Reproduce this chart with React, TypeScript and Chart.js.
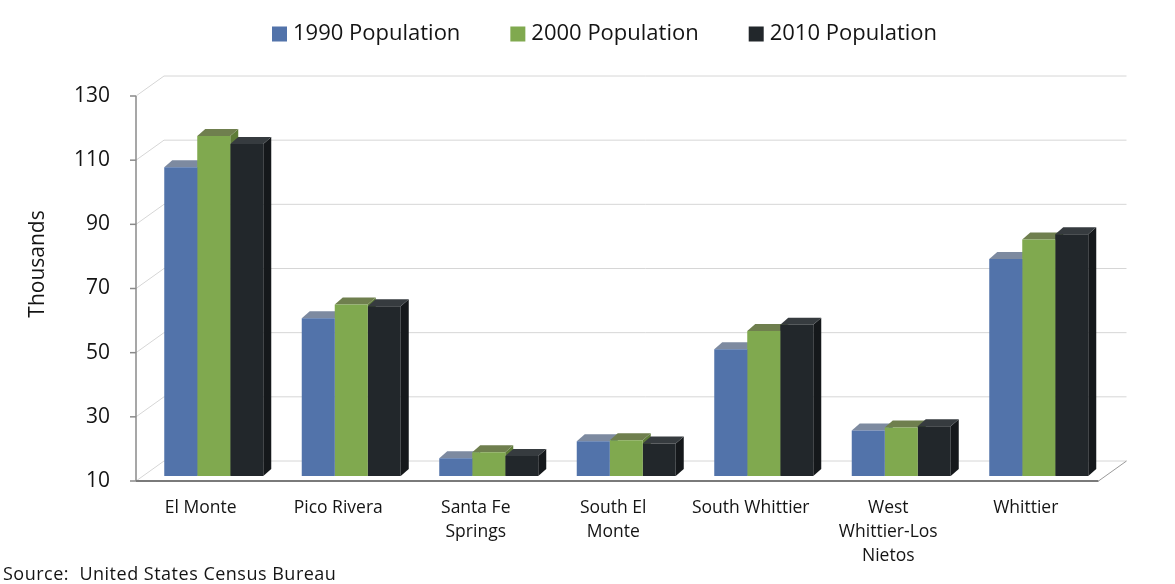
import React, { useEffect, useRef } from "react";
import { Chart, registerables } from "chart.js";

Chart.register(...registerables);

// ---- data (thousands) ----
const categories: string[][] = [
  ["El Monte"],
  ["Pico Rivera"],
  ["Santa Fe", "Springs"],
  ["South El", "Monte"],
  ["South Whittier"],
  ["West", "Whittier-Los", "Nietos"],
  ["Whittier"],
];
const seriesNames = ["1990 Population", "2000 Population", "2010 Population"];
const pop1990 = [106.209, 59.177, 15.52, 20.85, 49.514, 24.164, 77.671];
const pop2000 = [115.965, 63.428, 17.438, 21.144, 55.193, 25.129, 83.68];
const pop2010 = [113.475, 62.942, 16.223, 20.116, 57.156, 25.54, 85.331];
const yTicks = [10, 30, 50, 70, 90, 110, 130];
const axisTitle = "Thousands";
const sourceNote = "Source:  United States Census Bureau";

// ---- styles ----
const frontColors = ["#5273AA", "#80A94F", "#22272B"];
const topColors = ["#7D8AA0", "#6F7F4E", "#363B3F"];
const sideColors = ["#3D5580", "#5E7C38", "#15181B"];
const FONT = "'Open Sans', 'Noto Sans', sans-serif";
const FRONT = { dx: -9, dy: 5 };
const BACK = { dx: 19, dy: -15 };
const DEPTH = { dx: 8, dy: -7 };

const threeD = {
  id: "threeD",
  beforeDatasetsDraw(chart: any) {
    const { ctx, chartArea, scales } = chart;
    const y = scales.y;
    const L = chartArea.left;
    const R = chartArea.right;
    const b = y.getPixelForValue(yTicks[0]);
    const t = y.getPixelForValue(yTicks[yTicks.length - 1]);
    ctx.save();
    // back wall + left wall grid
    ctx.strokeStyle = "#d6d6d6";
    ctx.lineWidth = 1;
    yTicks.forEach((v) => {
      const py = y.getPixelForValue(v);
      ctx.beginPath();
      ctx.moveTo(L + FRONT.dx, py + FRONT.dy);
      ctx.lineTo(L + BACK.dx, py + BACK.dy);
      ctx.lineTo(R + BACK.dx, py + BACK.dy);
      ctx.stroke();
    });
    // floor right edge
    ctx.strokeStyle = "#9a9a9a";
    ctx.beginPath();
    ctx.moveTo(R + FRONT.dx, b + FRONT.dy);
    ctx.lineTo(R + BACK.dx, b + BACK.dy);
    ctx.stroke();
    // value axis line + ticks
    ctx.strokeStyle = "#8a8a8a";
    ctx.lineWidth = 1.5;
    ctx.beginPath();
    ctx.moveTo(L + FRONT.dx, t + FRONT.dy);
    ctx.lineTo(L + FRONT.dx, b + FRONT.dy);
    ctx.stroke();
    yTicks.forEach((v) => {
      const py = y.getPixelForValue(v) + FRONT.dy;
      ctx.beginPath();
      ctx.moveTo(L + FRONT.dx - 6, py);
      ctx.lineTo(L + FRONT.dx, py);
      ctx.stroke();
    });
    // floor front edge
    ctx.strokeStyle = "#7a7a7a";
    ctx.lineWidth = 2;
    ctx.beginPath();
    ctx.moveTo(L + FRONT.dx, b + FRONT.dy);
    ctx.lineTo(R + FRONT.dx, b + FRONT.dy);
    ctx.stroke();
    // bar extrusions (top and side faces)
    const n = chart.data.labels.length;
    for (let i = 0; i < n; i++) {
      for (let d = 0; d < chart.data.datasets.length; d++) {
        const el = chart.getDatasetMeta(d).data[i];
        const { x: cx, y: top, width } = el.getProps(["x", "y", "width"], true);
        const base = b;
        const l = cx - width / 2;
        const r = cx + width / 2;
        ctx.fillStyle = sideColors[d];
        ctx.beginPath();
        ctx.moveTo(r, top);
        ctx.lineTo(r + DEPTH.dx, top + DEPTH.dy);
        ctx.lineTo(r + DEPTH.dx, base + DEPTH.dy);
        ctx.lineTo(r, base);
        ctx.closePath();
        ctx.fill();
        ctx.fillStyle = topColors[d];
        ctx.beginPath();
        ctx.moveTo(l, top);
        ctx.lineTo(l + DEPTH.dx, top + DEPTH.dy);
        ctx.lineTo(r + DEPTH.dx, top + DEPTH.dy);
        ctx.lineTo(r, top);
        ctx.closePath();
        ctx.fill();
      }
    }
    ctx.restore();
  },
  afterDraw(chart: any) {
    const { ctx } = chart;
    ctx.save();
    // legend
    ctx.font = `22px ${FONT}`;
    ctx.textBaseline = "middle";
    ctx.textAlign = "left";
    let lx = 272;
    const ly = 34;
    chart.data.datasets.forEach((ds: any) => {
      ctx.fillStyle = ds.backgroundColor;
      ctx.fillRect(lx, ly - 7.5, 15, 15);
      ctx.fillStyle = "#141414";
      ctx.fillText(ds.label, lx + 21, ly);
      lx += 21 + ctx.measureText(ds.label).width + 50;
    });
    // axis title
    ctx.save();
    ctx.translate(38, 264);
    ctx.rotate(-Math.PI / 2);
    ctx.textAlign = "center";
    ctx.font = `21px ${FONT}`;
    ctx.fillText(axisTitle, 0, 0);
    ctx.restore();
    // source note
    ctx.font = `18px ${FONT}`;
    (ctx as any).letterSpacing = "0.5px";
    ctx.textBaseline = "alphabetic";
    ctx.textAlign = "left";
    ctx.fillText(sourceNote, 3, 580);
    (ctx as any).letterSpacing = "0px";
    ctx.restore();
  },
};

export default function App() {
  const ref = useRef<HTMLCanvasElement>(null);
  useEffect(() => {
    const chart = new Chart(ref.current as HTMLCanvasElement, {
      type: "bar",
      data: {
        labels: categories as any,
        datasets: [pop1990, pop2000, pop2010].map((vals, i) => ({
          label: seriesNames[i],
          data: vals,
          backgroundColor: frontColors[i],
          borderWidth: 0,
          categoryPercentage: 0.72,
          barPercentage: 1.0,
        })),
      },
      options: {
        responsive: false,
        animation: false,
        devicePixelRatio: 1,
        layout: { padding: { top: 91, right: 67.5, left: 0, bottom: 0 } },
        plugins: { legend: { display: false }, tooltip: { enabled: false } },
        scales: {
          x: {
            grid: { display: false, drawTicks: false },
            border: { display: false },
            ticks: {
              autoSkip: false,
              maxRotation: 0,
              minRotation: 0,
              labelOffset: -13,
              padding: 20,
              color: "#141414",
              font: { family: FONT, size: 17.5, lineHeight: 1.37 },
            },
            afterFit: (s: any) => {
              s.height = 108;
            },
          },
          y: {
            min: 10,
            max: 130,
            grid: { display: false, drawTicks: false },
            border: { display: false },
            ticks: {
              stepSize: 20,
              padding: 35,
              labelOffset: 5,
              color: "#141414",
              font: { family: FONT, size: 21 },
            },
            afterFit: (s: any) => {
              s.width = 145;
            },
          },
        },
      },
      plugins: [threeD],
    });
    return () => chart.destroy();
  }, []);
  return (
    <div style={{ position: "fixed", left: 0, top: 0, width: 1175, height: 584, background: "#fff" }}>
      <canvas ref={ref} width={1175} height={584} style={{ width: 1175, height: 584, display: "block" }} />
    </div>
  );
}
